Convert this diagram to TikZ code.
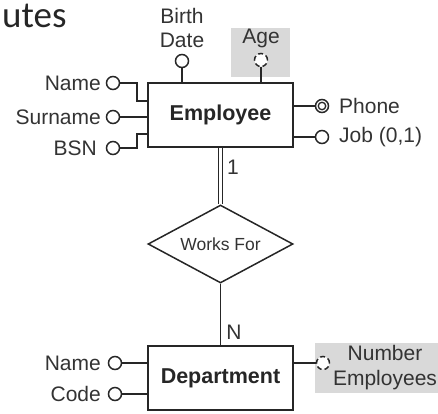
\documentclass[tikz,border=0pt]{standalone}
\usepackage{fontspec}
\setmainfont{Liberation Sans}
\newfontfamily\titlefont{Carlito}
\usetikzlibrary{shapes.geometric}
\begin{document}
\begin{tikzpicture}[x=1pt,y=-1pt,
  ink/.style={draw=black!85, line width=1.5pt},
  entity/.style={ink, rectangle, minimum width=145pt, minimum height=64pt, inner sep=0pt,
    font=\fontsize{21.5}{23}\selectfont\bfseries, text=black!85},
  attr/.style={ink, circle, fill=white, minimum size=13pt, inner sep=0pt},
  derived/.style={draw=black!85, line width=1.5pt, dash pattern=on 5pt off 3pt, circle, fill=white, minimum size=13pt, inner sep=0pt},
  lbl/.style={font=\fontsize{21}{23}\selectfont, text=black!80, inner sep=0pt}]
\useasboundingbox (0,0) rectangle (438,413);
% title fragment
\node[anchor=base west, inner sep=0pt, font=\titlefont\fontsize{37}{40}\selectfont, text=black!85] (title) at (2,27) {utes};
% gray backgrounds
\fill[black!15] (231,28) rectangle (290,77);
\fill[black!15] (315,343) rectangle (438,393);
% entities
\node[entity] (emp) at (220.5,115) {Employee};
\node[entity] (dep) at (220.5,378) {Department};
\node[ink, diamond, aspect=1.86, minimum width=145pt, minimum height=78pt, inner sep=0pt,
  font=\fontsize{17.5}{19}\selectfont, text=black!80] (rel) at (220.5,244) {Works For};
% Employee attributes
\node[attr] (cbirth) at (182,61) {};
\node[lbl, align=center, font=\fontsize{21}{24}\selectfont] (tbirth) at (182,28) {Birth\\Date};
\draw[ink] (cbirth.south) -- (cbirth.south |- emp.north);
\node[derived] (cage) at (261,60) {};
\node[lbl] (tage) at (261,38) {Age};
\draw[ink] (cage.south) -- (cage.south |- emp.north);
\node[attr] (cname) at (113,83) {};
\node[lbl, anchor=east] (tname) at (101,83) {Name};
\draw[ink] (cname.east) -- (137,83) -- (137,101) -- (emp.west |- 137,101);
\node[attr] (csur) at (113,117) {};
\node[lbl, anchor=east] (tsur) at (101,117) {Surname};
\draw[ink] (csur.east) -- (emp.west |- csur.east);
\node[attr] (cbsn) at (113,148) {};
\node[lbl, anchor=east] (tbsn) at (97,148) {BSN};
\draw[ink] (cbsn.east) -- (137,148) -- (137,134) -- (emp.west |- 137,134);
\node[attr] (cphone) at (322,106) {};
\node[draw=black!85, line width=1.3pt, circle, minimum size=7.5pt, inner sep=0pt] (cphonein) at (cphone) {};
\node[lbl, anchor=west] (tphone) at (339,106) {Phone};
\draw[ink] (emp.east |- cphone.west) -- (cphone.west);
\node[attr] (cjob) at (322,137) {};
\node[lbl, anchor=west] (tjob) at (339,137) {Job (0,1)};
\draw[ink] (emp.east |- cjob.west) -- (cjob.west);
% relationship
\draw[draw=black!85, line width=1.2pt, double, double distance=2.6pt] (emp.south) -- (rel.north);
\node[lbl] (one) at (233,167) {1};
\draw[ink] (rel.south) -- (dep.north);
\node[lbl] (many) at (234,332) {N};
% Department attributes
\node[attr] (cdname) at (115,363) {};
\node[lbl, anchor=east] (tdname) at (101,363) {Name};
\draw[ink] (cdname.east) -- (dep.west |- cdname.east);
\node[attr] (ccode) at (115,394) {};
\node[lbl, anchor=east] (tcode) at (101,394) {Code};
\draw[ink] (ccode.east) -- (dep.west |- ccode.east);
\node[derived] (cnum) at (323,363) {};
\draw[ink] (dep.east |- cnum.west) -- (cnum.west);
\node[lbl, align=center, font=\fontsize{21}{25}\selectfont] (tnum) at (385,368) {Number\\Employees};
\end{tikzpicture}
\end{document}
